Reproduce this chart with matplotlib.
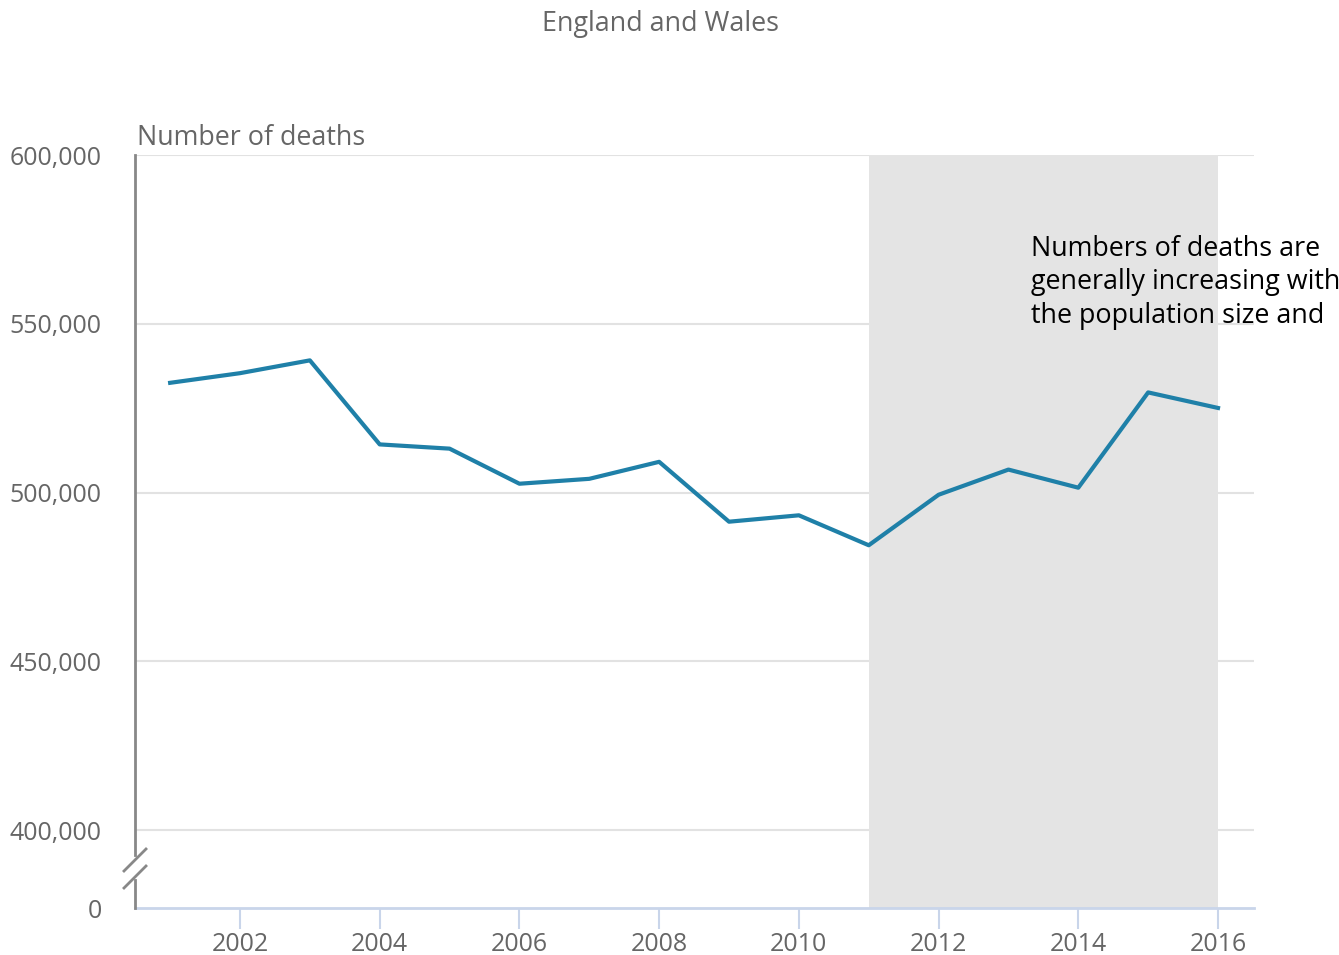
"""Deaths in England and Wales, 2001 to 2016, with the recent period shaded."""

import matplotlib

matplotlib.use("Agg")
import matplotlib.pyplot as plt

plt.rcParams["font.family"] = ["Open Sans", "DejaVu Sans"]

years = list(range(2001, 2017))
deaths = [
    532498, 535356, 539151, 514250, 512993, 502599, 504052, 509090,
    491348, 493242, 484367, 499331, 506790, 501424, 529655, 525048,
]
grid_values = [400000, 450000, 500000, 550000, 600000]
tick_years = [2002, 2004, 2006, 2008, 2010, 2012, 2014, 2016]
shade_span = (2011, 2016)
axis_floor = 376889  # where the broken axis shows "0"
note = "Numbers of deaths are\ngenerally increasing with\nthe population size and"

TEXT_GREY = "#666666"
LINE_BLUE = "#1f80a8"

fig = plt.figure(figsize=(13.39, 9.55), dpi=100)
ax = fig.add_axes([135 / 1339, 47 / 955, 1119 / 1339, 753 / 955])

for v in grid_values:
    ax.axhline(v, color="#e2e2e2", linewidth=1.5, zorder=1)
ax.axvspan(*shade_span, color="#e4e4e4", zorder=2, linewidth=0)
ax.plot(years, deaths, color=LINE_BLUE, linewidth=3, zorder=3)

ax.set_xlim(2000.497, 2016.515)
ax.set_ylim(axis_floor, 600000)

ax.set_yticks([axis_floor] + grid_values)
ax.set_yticklabels(["0"] + [f"{v:,}" for v in grid_values])
ax.set_xticks(tick_years)
ax.tick_params(axis="y", length=0, pad=24, labelsize=18, labelcolor=TEXT_GREY)
ax.tick_params(axis="x", length=15, width=1.5, color="#c9d5ea", pad=2,
               labelsize=18, labelcolor=TEXT_GREY)

for side in ("top", "right", "left"):
    ax.spines[side].set_visible(False)
ax.spines["bottom"].set_color("#c9d5ea")
ax.spines["bottom"].set_linewidth(2)

# left spine with a break between 400,000 and 0
h = 753
ax.plot([0, 0], [1, (908 - 855) / h], color="#888888", linewidth=2,
        transform=ax.transAxes, clip_on=False, zorder=4)
ax.plot([0, 0], [(908 - 880) / h, 0], color="#888888", linewidth=2,
        transform=ax.transAxes, clip_on=False, zorder=4)
for y0 in (871, 888):
    ax.plot([-11 / 1119, 11 / 1119], [(908 - y0) / h, (908 - y0 + 22) / h],
            color="#888888", linewidth=2, transform=ax.transAxes,
            clip_on=False, zorder=4)

ax.text(2013.32, 576400, note, ha="left", va="top", fontsize=19.4,
        color="black", linespacing=1.27, zorder=5)

fig.text(660 / 1339, 1 - 24 / 955, "England and Wales", ha="center",
         va="center", fontsize=19.4, color=TEXT_GREY)
fig.text(137 / 1339, 1 - 138 / 955, "Number of deaths", ha="left",
         va="center", fontsize=19.4, color=TEXT_GREY)

fig.savefig("out.png", dpi=100)
